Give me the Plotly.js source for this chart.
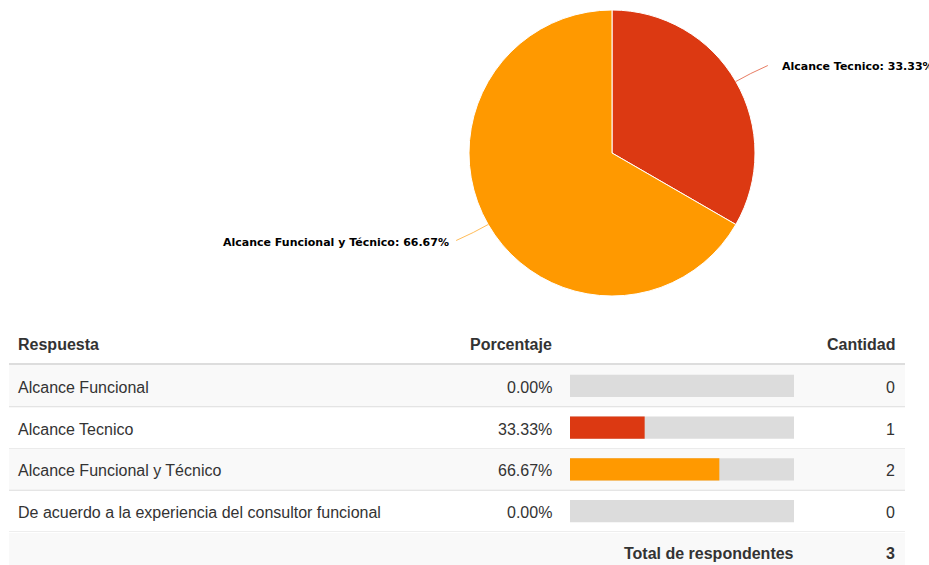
<!DOCTYPE html>
<html>
<head>
<meta charset="utf-8">
<script src="https://cdn.plot.ly/plotly-3.0.1.min.js"></script>
<style>html,body{margin:0;padding:0;background:#fff;}#chart{width:929px;height:565px;}</style>
</head>
<body>
<div id="chart"></div>
<script>
// ---- data ----
const answers = ['Alcance Funcional', 'Alcance Tecnico', 'Alcance Funcional y Técnico', 'De acuerdo a la experiencia del consultor funcional'];
const counts = [0, 1, 2, 0];
const percents = [0.00, 33.33, 66.67, 0.00];
const sliceColors = ['#3366CC', '#DC3912', '#FF9900', '#109618'];
const totalLabel = 'Total de respondentes';
const totalCount = 3;
const headers = ['Respuesta', 'Porcentaje', 'Cantidad'];

// ---- layout helpers (pixel -> paper) ----
const W = 929, H = 565;
const px = x => x / W;
const py = y => 1 - y / H;

// pie geometry
const cx = 612, cy = 153, R = 143;

const pieIdx = counts.map((c, i) => i).filter(i => counts[i] > 0);
const pieTrace = {
  type: 'pie',
  labels: pieIdx.map(i => answers[i]),
  values: pieIdx.map(i => counts[i]),
  marker: { colors: pieIdx.map(i => sliceColors[i]), line: { color: '#ffffff', width: 1 } },
  sort: false,
  direction: 'clockwise',
  rotation: 0,
  textinfo: 'none',
  hoverinfo: 'none',
  showlegend: false,
  domain: { x: [px(cx - R), px(cx + R)], y: [py(cy + R), py(cy - R)] }
};

const rows = answers.map((a, i) => i);
const bgBars = {
  type: 'bar', orientation: 'h',
  x: answers.map(() => 100), y: rows,
  width: 0.53,
  marker: { color: '#dcdcdc' },
  hoverinfo: 'none', showlegend: false,
  xaxis: 'x', yaxis: 'y'
};
const valBars = {
  type: 'bar', orientation: 'h',
  x: percents, y: rows,
  width: 0.53,
  marker: { color: sliceColors },
  hoverinfo: 'none', showlegend: false,
  xaxis: 'x', yaxis: 'y'
};

const tableLeft = 9, tableRight = 905;
const rowTop = 365, rowBottom = 532;

const shapes = [];
const annotations = [];
const txtFont = { family: 'Liberation Sans, Arial, sans-serif', size: 16, color: '#333333' };
const boldFont = { family: 'Liberation Sans, Arial, sans-serif', size: 16, color: '#333333', weight: 'bold' };

// row backgrounds & separators
rows.forEach(i => {
  if (i % 2 === 0) {
    shapes.push({ type: 'rect', xref: 'paper', yref: 'y', x0: px(tableLeft), x1: px(tableRight), y0: i - 0.5, y1: i + 0.5,
      fillcolor: '#f9f9f9', line: { width: 0 }, layer: 'below' });
  }
  shapes.push({ type: 'line', xref: 'paper', yref: 'y', x0: px(tableLeft), x1: px(tableRight), y0: i + 0.5, y1: i + 0.5,
    line: { color: '#dddddd', width: 1 }, layer: 'below' });
  annotations.push({ xref: 'paper', yref: 'y', x: px(16), y: i, yshift: -1.5, xanchor: 'left', yanchor: 'middle', showarrow: false,
    text: answers[i], font: txtFont });
  annotations.push({ xref: 'paper', yref: 'y', x: px(554), y: i, yshift: -1.5, xanchor: 'right', yanchor: 'middle', showarrow: false,
    text: percents[i].toFixed(2) + '%', font: txtFont });
  annotations.push({ xref: 'paper', yref: 'y', x: px(897), y: i, yshift: -1.5, xanchor: 'right', yanchor: 'middle', showarrow: false,
    text: String(counts[i]), font: txtFont });
});
// header line
shapes.push({ type: 'line', xref: 'paper', yref: 'paper', x0: px(tableLeft), x1: px(tableRight), y0: py(364), y1: py(364),
  line: { color: '#dddddd', width: 2 }, layer: 'below' });
// total row bg
shapes.push({ type: 'rect', xref: 'paper', yref: 'paper', x0: px(tableLeft), x1: px(tableRight), y0: 0, y1: py(533),
  fillcolor: '#f9f9f9', line: { width: 0 }, layer: 'below' });

// headers
annotations.push({ xref: 'paper', yref: 'paper', x: px(16), y: py(344), xanchor: 'left', yanchor: 'middle', showarrow: false, text: headers[0], font: boldFont });
annotations.push({ xref: 'paper', yref: 'paper', x: px(554), y: py(344), xanchor: 'right', yanchor: 'middle', showarrow: false, text: headers[1], font: boldFont });
annotations.push({ xref: 'paper', yref: 'paper', x: px(897), y: py(344), xanchor: 'right', yanchor: 'middle', showarrow: false, text: headers[2], font: boldFont });
// total
annotations.push({ xref: 'paper', yref: 'paper', x: px(796), y: py(553), xanchor: 'right', yanchor: 'middle', showarrow: false, text: totalLabel, font: boldFont });
annotations.push({ xref: 'paper', yref: 'paper', x: px(897), y: py(553), xanchor: 'right', yanchor: 'middle', showarrow: false, text: String(totalCount), font: boldFont });

// pie labels with leader lines, computed from slice geometry
const pieTotal = pieIdx.reduce((s, i) => s + counts[i], 0);
let cum = 0;
pieIdx.forEach(i => {
  const frac = counts[i] / pieTotal;
  const mid = (cum + frac / 2) * 2 * Math.PI;
  cum += frac;
  const sx = Math.sin(mid), sy = -Math.cos(mid);
  const p0 = [cx + R * sx, cy + R * sy];
  const sign = sx >= 0 ? 1 : -1;
  const ctrl = [p0[0] + 16 * sx, p0[1] + 16 * sy];
  const end = [p0[0] + sign * 32, p0[1] + 32 * sy];
  shapes.push({ type: 'path', xref: 'paper', yref: 'paper',
    path: `M ${px(p0[0])},${py(p0[1])} Q ${px(ctrl[0])},${py(ctrl[1])} ${px(end[0])},${py(end[1])}`,
    line: { color: sliceColors[i], width: 1 }, opacity: 0.65 });
  annotations.push({ xref: 'paper', yref: 'paper', x: px(end[0] + (sign > 0 ? 12 : -5)), y: py(end[1] + 1.5),
    xanchor: sign > 0 ? 'left' : 'right', yanchor: 'middle', showarrow: false,
    text: `${answers[i]}: ${percents[i].toFixed(2)}%`,
    font: { family: 'DejaVu Sans, Verdana, sans-serif', size: 11, color: '#000000', weight: 'bold' } });
});

const layout = {
  width: W, height: H,
  margin: { l: 0, r: 0, t: 0, b: 0 },
  paper_bgcolor: '#ffffff', plot_bgcolor: 'rgba(0,0,0,0)',
  barmode: 'overlay',
  showlegend: false,
  xaxis: { domain: [px(570), px(794)], range: [0, 100], visible: false, fixedrange: true },
  yaxis: { domain: [py(rowBottom), py(rowTop)], range: [3.5, -0.5], visible: false, fixedrange: true },
  shapes: shapes,
  annotations: annotations
};

Plotly.newPlot('chart', [pieTrace, bgBars, valBars], layout, { displayModeBar: false, staticPlot: true });
</script>
</body>
</html>
